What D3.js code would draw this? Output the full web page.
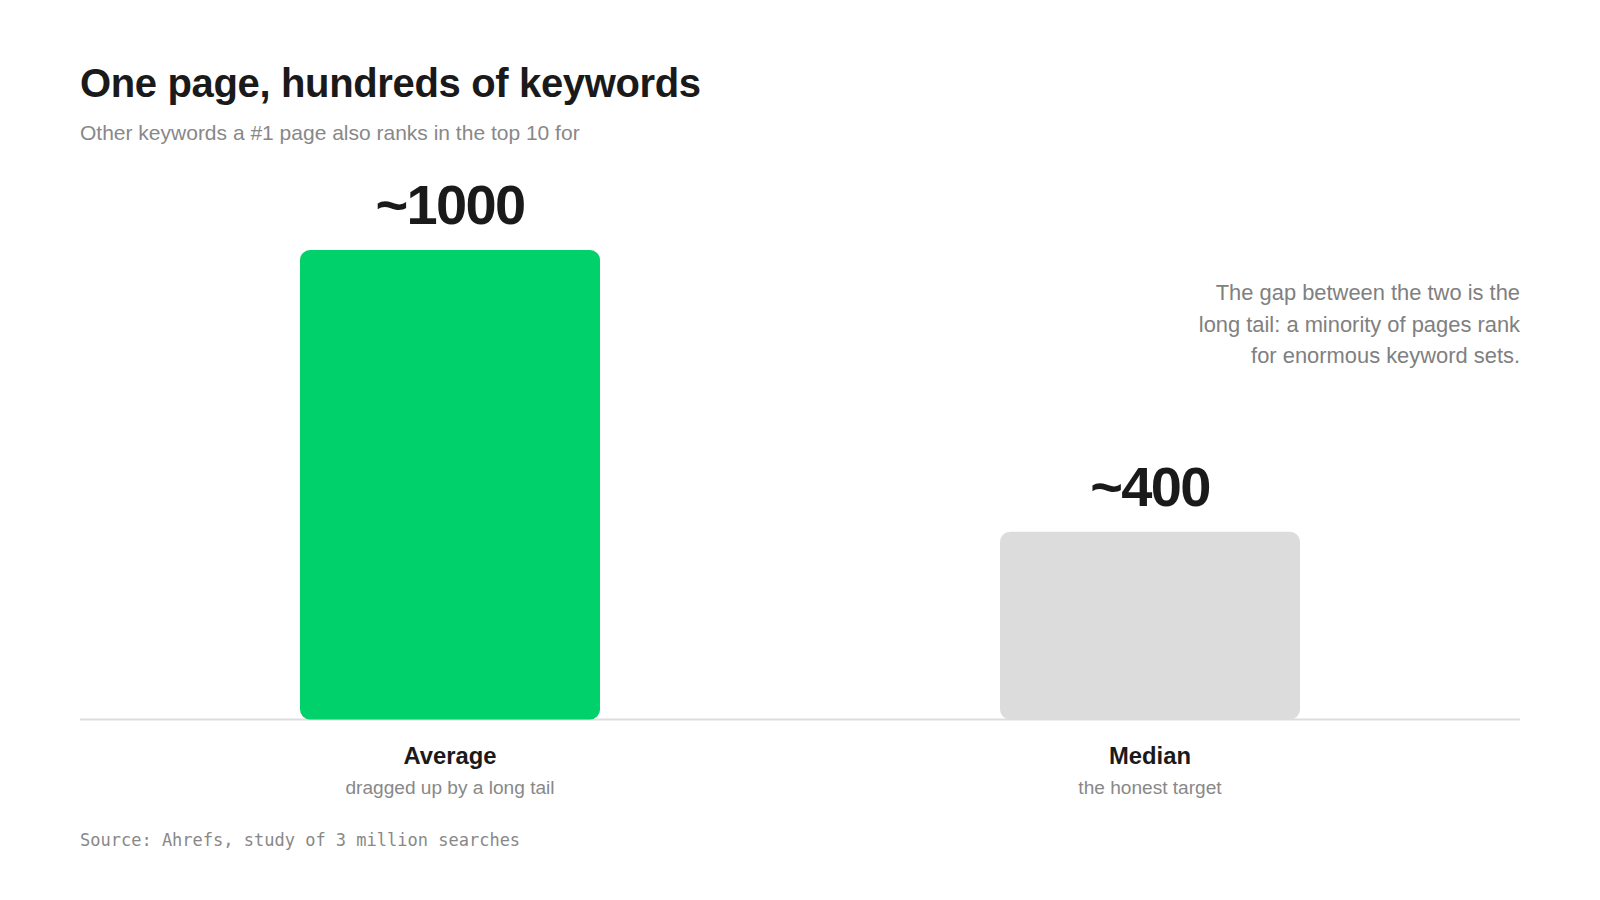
<!DOCTYPE html>
<html>
<head>
<meta charset="utf-8">
<script src="https://cdn.jsdelivr.net/npm/d3@7"></script>
<style>
  html, body { margin: 0; padding: 0; background: #fff; }
  svg { display: block; }
</style>
</head>
<body>
<div id="chart"></div>
<script>
const categories = ["Average", "Median"];
const values = [1000, 400];
const valueLabels = ["~1000", "~400"];
const subLabels = ["dragged up by a long tail", "the honest target"];
const barColors = ["#00d16a", "#dcdcdc"];
const titleText = "One page, hundreds of keywords";
const subtitleText = "Other keywords a #1 page also ranks in the top 10 for";
const noteLines = ["The gap between the two is the", "long tail: a minority of pages rank", "for enormous keyword sets."];
const sourceText = "Source: Ahrefs, study of 3 million searches";

const W = 1600, H = 900;
const left = 80, right = 1520, baseY = 719.5, topY = 250;
const font = "'Liberation Sans', Arial, Helvetica, sans-serif";

const svg = d3.select("#chart").append("svg").attr("width", W).attr("height", H);

const x = d3.scaleBand().domain(categories).range([left, right])
  .paddingInner(0.5714).paddingOuter(0.3143);
const y = d3.scaleLinear().domain([0, 1000]).range([baseY, topY]);

// Title / subtitle
svg.append("text").attr("x", left).attr("y", 97)
  .attr("font-family", font).attr("font-weight", 700).attr("font-size", 40)
  .attr("letter-spacing", -0.35).attr("fill", "#1a1a1a").text(titleText);
svg.append("text").attr("x", left).attr("y", 140)
  .attr("font-family", font).attr("font-size", 21).attr("fill", "#888").text(subtitleText);

const data = categories.map((c, i) => ({ c, v: values[i], lab: valueLabels[i], sub: subLabels[i], col: barColors[i] }));

// Baseline
svg.append("line").attr("x1", left).attr("x2", right).attr("y1", baseY).attr("y2", baseY)
  .attr("stroke", "#dddddd").attr("stroke-width", 2);

// Bars (rounded rects)
svg.selectAll("rect.bar").data(data).enter().append("rect")
  .attr("class", "bar")
  .attr("x", d => x(d.c))
  .attr("width", x.bandwidth())
  .attr("y", d => y(d.v))
  .attr("height", d => y(0) - y(d.v))
  .attr("rx", 10).attr("ry", 10)
  .attr("fill", d => d.col);

// Value labels
svg.selectAll("text.val").data(data).enter().append("text")
  .attr("class", "val")
  .attr("x", d => x(d.c) + x.bandwidth() / 2)
  .attr("y", d => y(d.v) - 26)
  .attr("text-anchor", "middle")
  .attr("font-family", font).attr("font-weight", 700).attr("font-size", 56)
  .attr("letter-spacing", -1.7)
  .attr("fill", "#1a1a1a").text(d => d.lab);

// Category labels
svg.selectAll("text.cat").data(data).enter().append("text")
  .attr("class", "cat")
  .attr("x", d => x(d.c) + x.bandwidth() / 2)
  .attr("y", 764)
  .attr("text-anchor", "middle")
  .attr("font-family", font).attr("font-weight", 700).attr("font-size", 23.8)
  .attr("fill", "#1a1a1a").text(d => d.c);
svg.selectAll("text.sub").data(data).enter().append("text")
  .attr("class", "sub")
  .attr("x", d => x(d.c) + x.bandwidth() / 2)
  .attr("y", 794)
  .attr("text-anchor", "middle")
  .attr("font-family", font).attr("font-size", 19.1)
  .attr("fill", "#888").text(d => d.sub);

// Annotation
svg.append("g").selectAll("text").data(noteLines).enter().append("text")
  .attr("x", right).attr("y", (d, i) => 300 + i * 31.7)
  .attr("text-anchor", "end")
  .attr("font-family", font).attr("font-size", 21.9)
  .attr("fill", "#808080").text(d => d);

// Source
svg.append("text").attr("x", left).attr("y", 846)
  .attr("font-family", "'DejaVu Sans Mono', monospace").attr("font-size", 17)
  .attr("fill", "#888").text(sourceText);
</script>
</body>
</html>
